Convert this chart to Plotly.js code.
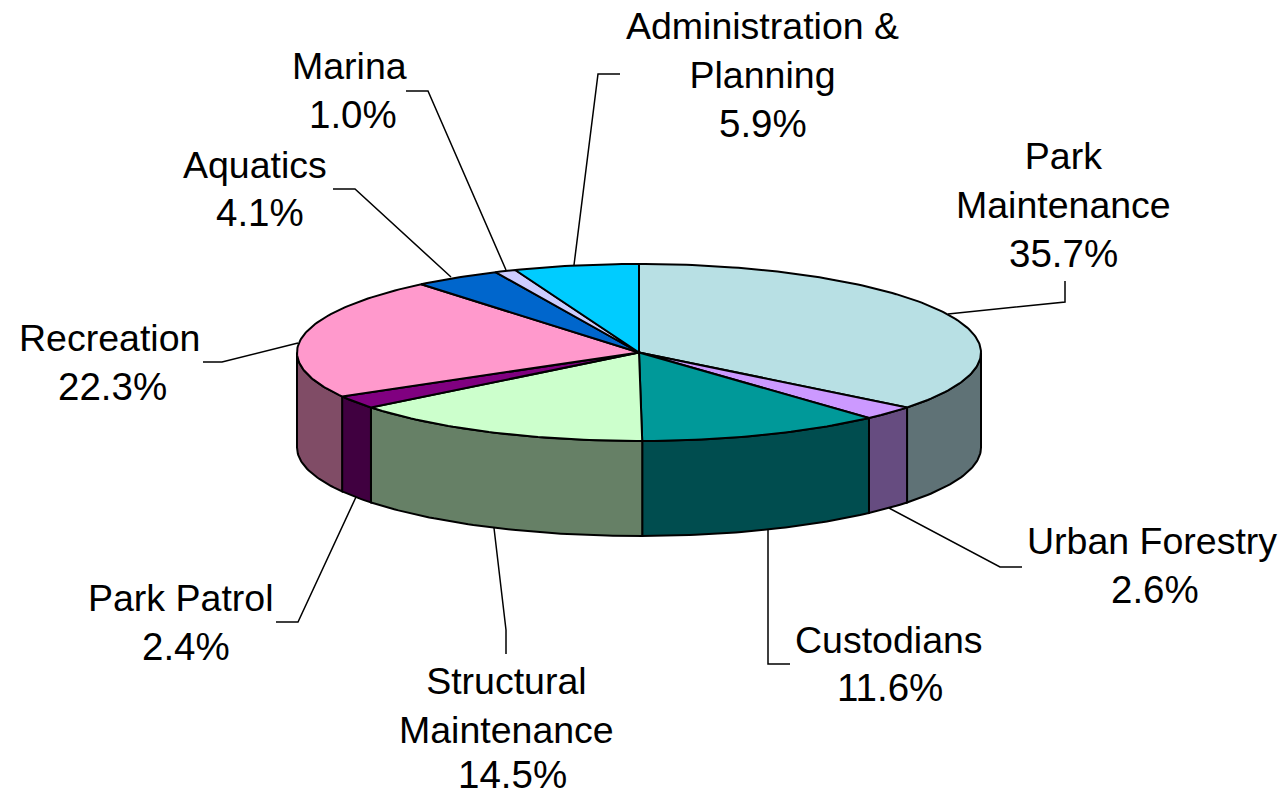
<!DOCTYPE html>
<html>
<head>
<meta charset="utf-8">
<script src="https://cdn.plot.ly/plotly-3.0.1.min.js"></script>
<style>html,body{margin:0;padding:0;background:#fff}#chart{width:1282px;height:796px}</style>
</head>
<body>
<div id="chart"></div>
<script>
// Data, clockwise from 12 o'clock
const categories = ['Park Maintenance','Urban Forestry','Custodians','Structural Maintenance','Park Patrol','Recreation','Aquatics','Marina','Administration & Planning'];
const shares = [35.7,2.6,11.6,14.5,2.4,22.3,4.1,1.0,5.9];
const labelLines = ['Park<br>Maintenance','Urban Forestry','Custodians','Structural<br>Maintenance','Park Patrol','Recreation','Aquatics','Marina','Administration &<br>Planning'];

// Styles
const topColors  = ['#B8E0E4','#CC99FF','#009999','#CCFFCC','#800080','#FF99CC','#0066CC','#CCCCFF','#00CCFF'];
const sideColors = ['#5F7276','#664C80','#004D4F','#668066','#400040','#804C66','#003366','#666680','#006680'];

// Geometry in picture units
const CX = 639, CY = 352.5, RX = 342, RY = 88.5, DEPTH = 95;
const namePos = [[1063,180.5],[1152,541],[889,640],[506,705.5],[181,598],[109,338],[255,165],[349.5,66],[762,50.5]];
const pctPos  = [[1063.5,252.5],[1155,588.5],[890,686.5],[512,773.5],[185.5,645.5],[112,385.5],[259.5,211.5],[353,113.5],[762.5,122.5]];
const leaders = [
  [[948,314],[1065,302],[1065,281]],
  [[889,508],[1000,567],[1022,567]],
  [[768,530],[768,664],[790,664]],
  [[494,528],[506,630],[506,654]],
  [[356,497],[298,622],[276,622]],
  [[298,343],[222,362],[203,362]],
  [[451,277],[355,189],[333,189]],
  [[506,270],[428,91],[406,91]],
  [[574,265],[598,74],[620,74]]
];

const rad = d => d * Math.PI / 180;
const px = a => CX + RX * Math.sin(rad(a));
const py = (a, drop) => CY - RY * Math.cos(rad(a)) + drop;
function arc(a0, a1, drop) {
  const n = Math.max(2, Math.ceil(Math.abs(a1 - a0)));
  const xs = [], ys = [];
  for (let i = 0; i <= n; i++) {
    const a = a0 + (a1 - a0) * i / n;
    xs.push(px(a)); ys.push(py(a, drop));
  }
  return [xs, ys];
}
const total = shares.reduce((s, v) => s + v, 0);
let run = 0;
const spans = shares.map(v => { const a0 = run / total * 360; run += v; return [a0, run / total * 360]; });

const common = {type:'scatter', mode:'lines', fill:'toself', hoverinfo:'skip', showlegend:false};
const lineStyle = {color:'#000', width:2, shape:'linear'};
const traces = [];

// Leader lines behind the pie
leaders.forEach(pts => traces.push({type:'scatter', mode:'lines', hoverinfo:'skip', showlegend:false,
  x:pts.map(p => p[0]), y:pts.map(p => p[1]), line:{color:'#000', width:1.5}}));

// Wall pieces for the front half
spans.forEach(([a0, a1], i) => {
  const s = Math.max(a0, 90), e = Math.min(a1, 270);
  if (e <= s) return;
  const [tx, ty] = arc(s, e, 0), [bx, by] = arc(e, s, DEPTH);
  traces.push({...common, name:categories[i] + ' wall', x:[...tx, ...bx, tx[0]], y:[...ty, ...by, ty[0]],
    fillcolor:sideColors[i], line:lineStyle});
});

// Top face
spans.forEach(([a0, a1], i) => {
  const [ax, ay] = arc(a0, a1, 0);
  traces.push({...common, name:categories[i], x:[CX, ...ax, CX], y:[CY, ...ay, CY],
    fillcolor:topColors[i], line:lineStyle});
});

const fam = '"Liberation Sans", Arial, sans-serif';
const annotations = [
  ...categories.map((c, i) => ({
    xref:'x', yref:'y', x:namePos[i][0], y:namePos[i][1], xanchor:'center', yanchor:'middle',
    showarrow:false, align:'center', text:labelLines[i],
    font:{family:fam, size:37.5, color:'#000'}
  })),
  ...shares.map((v, i) => ({
    xref:'x', yref:'y', x:pctPos[i][0], y:pctPos[i][1], xanchor:'center', yanchor:'middle',
    showarrow:false, align:'center', valign:'middle', height:34, borderpad:0, text:v.toFixed(1) + '%',
    font:{family:fam, size:38.5, color:'#000'}
  }))
];

const layout = {
  width:1282, height:796, margin:{l:0, r:0, t:0, b:0, pad:0},
  paper_bgcolor:'#fff', plot_bgcolor:'#fff', showlegend:false,
  xaxis:{visible:false, range:[0,1282], fixedrange:true},
  yaxis:{visible:false, range:[796,0], fixedrange:true},
  annotations
};
Plotly.newPlot('chart', traces, layout, {displayModeBar:false, staticPlot:true});
</script>
</body>
</html>
